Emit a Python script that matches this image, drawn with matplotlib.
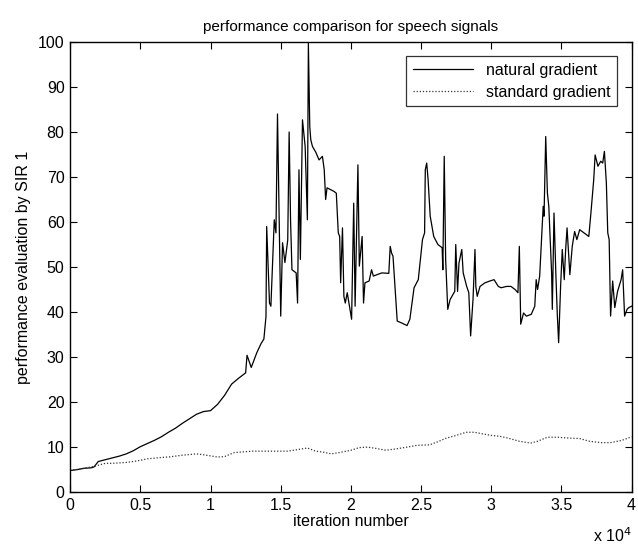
import matplotlib
matplotlib.use("Agg")
import matplotlib.pyplot as plt
from matplotlib.ticker import FuncFormatter, MultipleLocator

plt.rcParams["font.family"] = ["Liberation Sans", "DejaVu Sans"]

# iteration number in units of 1e4
natural_x = [
    0, 0.05, 0.1, 0.15, 0.17, 0.2, 0.25, 0.3, 0.35, 0.4, 0.45, 0.5, 0.55, 0.6, 0.65,
    0.7, 0.75, 0.8, 0.85, 0.9, 0.95, 1.0, 1.05, 1.1, 1.15, 1.2, 1.25, 1.26, 1.29, 1.33,
    1.36, 1.38, 1.395, 1.40, 1.42, 1.43, 1.454, 1.466, 1.477, 1.50, 1.513, 1.53, 1.55,
    1.56, 1.57, 1.58, 1.61, 1.62, 1.63, 1.64, 1.655, 1.674, 1.69, 1.697, 1.707, 1.714,
    1.726, 1.75, 1.773, 1.797, 1.81, 1.82, 1.83, 1.88, 1.896, 1.91, 1.92, 1.927, 1.94,
    1.95, 1.96, 1.974, 1.99, 2.005, 2.02, 2.03, 2.05, 2.06, 2.08, 2.09, 2.10, 2.13,
    2.147, 2.16, 2.22, 2.27, 2.28, 2.29, 2.30, 2.33, 2.36, 2.40, 2.42, 2.45, 2.48,
    2.51, 2.525, 2.53, 2.54, 2.55, 2.565, 2.59, 2.62, 2.65, 2.655, 2.665, 2.675, 2.69,
    2.707, 2.74, 2.747, 2.76, 2.77, 2.79, 2.80, 2.825, 2.84, 2.853, 2.87, 2.884, 2.89,
    2.90, 2.92, 2.955, 2.99, 3.02, 3.05, 3.07, 3.11, 3.14, 3.17, 3.19, 3.20, 3.21,
    3.23, 3.25, 3.285, 3.31, 3.32, 3.33, 3.345, 3.357, 3.37, 3.376, 3.388, 3.40, 3.41,
    3.43, 3.435, 3.447, 3.46, 3.47, 3.48, 3.494, 3.506, 3.52, 3.53, 3.54, 3.56, 3.577,
    3.594, 3.61, 3.63, 3.66, 3.695, 3.71, 3.73, 3.74, 3.76, 3.78, 3.794, 3.806, 3.82,
    3.83, 3.84, 3.85, 3.865, 3.88, 3.90, 3.925, 3.936, 3.95, 3.967, 3.98, 4.0,
]
natural_sir = [
    4.8, 5.0, 5.3, 5.4, 5.6, 6.8, 7.2, 7.6, 8.0, 8.5, 9.2, 10.1, 10.8, 11.5, 12.3,
    13.3, 14.2, 15.3, 16.3, 17.3, 17.9, 18.1, 19.5, 21.5, 24.0, 25.3, 26.5, 30.4, 27.7, 31.0,
    33.0, 34.0, 39.0, 59.0, 42.0, 41.3, 60.5, 57.6, 84.0, 39.1, 55.4, 51.0, 56.0,
    80.0, 60.5, 49.4, 48.7, 42.0, 71.6, 51.7, 82.7, 76.8, 60.5, 99.7, 81.2, 78.3,
    76.8, 75.5, 73.8, 74.6, 71.6, 65.0, 67.6, 66.8, 66.4, 57.6, 56.8, 46.5, 58.7,
    43.5, 42.0, 44.3, 41.3, 38.4, 64.2, 41.3, 72.7, 50.2, 56.8, 42.0, 46.5, 46.9,
    49.4, 48.0, 48.7, 48.6, 54.6, 53.1, 52.4, 38.0, 37.6, 37.0, 38.4, 45.4, 47.2,
    56.1, 57.6, 71.6, 73.1, 69.4, 61.3, 56.8, 55.0, 54.3, 49.4, 74.6, 51.7, 40.6,
    42.8, 44.6, 55.0, 44.6, 50.9, 53.9, 48.7, 45.7, 44.3, 34.7, 42.8, 53.9, 45.7,
    43.5, 45.7, 46.5, 46.9, 47.2, 45.7, 45.4, 45.7, 45.7, 45.0, 44.3, 54.6, 37.3,
    39.8, 39.1, 39.5, 41.3, 47.2, 45.0, 48.0, 55.4, 63.5, 61.3, 79.0, 66.4, 63.5,
    48.7, 40.6, 62.0, 48.7, 39.8, 33.2, 45.7, 53.9, 47.2, 53.9, 58.7, 48.3, 54.6,
    57.9, 56.1, 58.3, 57.6, 56.8, 62.0, 69.4, 74.9, 72.4, 73.5, 73.1, 75.7, 68.7,
    57.6, 56.1, 39.1, 46.9, 41.0, 44.6, 47.2, 49.4, 39.1, 40.6, 41.0, 41.3,
]

standard_x = [
    0, 0.1, 0.18, 0.25, 0.3, 0.4, 0.47, 0.55, 0.65, 0.7, 0.8, 0.9, 0.95, 1.05, 1.1,
    1.17, 1.3, 1.42, 1.55, 1.65, 1.69, 1.75, 1.8, 1.86, 1.92, 2.0, 2.06, 2.12, 2.18,
    2.25, 2.32, 2.4, 2.47, 2.56, 2.62, 2.68, 2.75, 2.82, 2.88, 2.93, 3.0, 3.06, 3.12,
    3.2, 3.28, 3.33, 3.4, 3.47, 3.56, 3.63, 3.7, 3.78, 3.85, 3.93, 4.0,
]
standard_sir = [
    4.8, 5.3, 5.8, 6.4, 6.4, 6.6, 6.9, 7.4, 7.7, 7.8, 8.2, 8.5, 8.3, 7.8, 7.9,
    8.8, 9.1, 9.1, 9.1, 9.6, 9.8, 9.1, 8.9, 8.5, 8.8, 9.3, 9.9, 10.0, 9.7,
    9.3, 9.6, 10.0, 10.4, 10.5, 11.2, 12.0, 12.6, 13.3, 13.3, 13.0, 12.6, 12.4, 12.0,
    11.3, 10.9, 11.3, 12.2, 12.2, 12.0, 11.9, 11.3, 11.0, 11.0, 11.5, 12.3,
]

fig = plt.figure(figsize=(6.38, 5.45), dpi=100)
ax = fig.add_axes([0.110, 0.097, 0.880, 0.826])

ax.plot([x * 1e4 for x in natural_x], natural_sir, color="black", lw=0.9,
        label="natural gradient")
ax.plot([x * 1e4 for x in standard_x], standard_sir, color="#333333", lw=0.9,
        linestyle=(0, (1, 1.5)), label="standard gradient")

ax.set_xlim(0, 4e4)
ax.set_ylim(0, 100)
ax.xaxis.set_major_locator(MultipleLocator(5000))
ax.yaxis.set_major_locator(MultipleLocator(10))
ax.xaxis.set_major_formatter(FuncFormatter(lambda v, p: f"{v / 1e4:g}"))
ax.tick_params(direction="in", top=True, right=True, length=5, width=0.8,
               labelsize=11.5, pad=4)
for s in ax.spines.values():
    s.set_linewidth(1.0)

ax.set_title("performance comparison for speech signals", fontsize=11, pad=8)
ax.set_xlabel("iteration number", fontsize=11.5, labelpad=1)
ax.set_ylabel("performance evaluation by SIR 1", fontsize=11.5, labelpad=5)
ax.text(1.0, -0.076, r"x 10$^{4}$", transform=ax.transAxes, ha="right",
        va="top", fontsize=11.5)

leg = ax.legend(loc="upper right", fontsize=11.5, frameon=True, fancybox=False,
                edgecolor="black", handlelength=3.8, borderaxespad=0.9,
                labelspacing=0.45, borderpad=0.4)
leg.get_frame().set_linewidth(0.9)

fig.savefig("out.png", dpi=100)
